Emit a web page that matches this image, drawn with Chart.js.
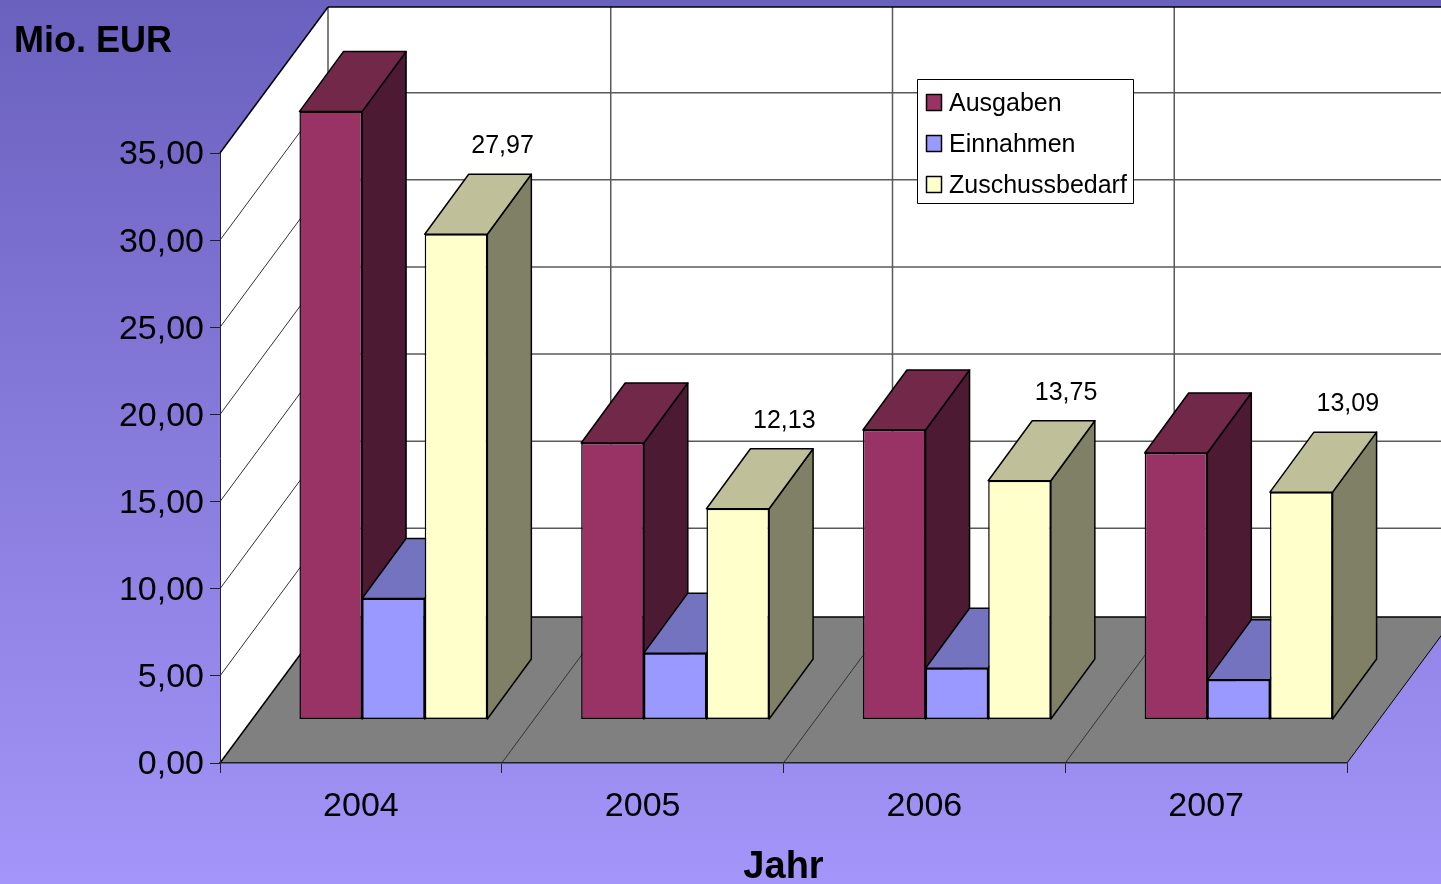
<!DOCTYPE html>
<html>
<head>
<meta charset="utf-8">
<title>Mio. EUR</title>
<script src="https://cdn.jsdelivr.net/npm/chart.js@4"></script>
<style>
  html, body { margin: 0; height: 100%; overflow: hidden; }
  body { background: linear-gradient(180deg, #6a60bd 0%, #a395f9 100%); }
  canvas { display: block; }
</style>
</head>
<body>
<canvas id="chart" width="1441" height="884"></canvas>
<script>
const jahre = ["2004", "2005", "2006", "2007"];
const ausgaben = [35.05, 15.93, 16.68, 15.35];
const einnahmen = [6.95, 3.8, 2.93, 2.26];
const zuschussbedarf = [27.97, 12.13, 13.75, 13.09];
const yTitle = "Mio. EUR";
const xTitle = "Jahr";

const FONT = '"Liberation Sans", Arial, sans-serif';
// oblique projection of the 3D look
const WALL_DX = 108, WALL_DY = 146;   // depth of the whole floor
const GRID_DX = 109, GRID_DY = 147.5; // grid on the back wall sits slightly off the corner
const BAR_DX = 44, BAR_DY = 60;       // depth of one bar
const BAR_SHIFT = 32.5;               // bars stand inside the floor
const BAR_PX_PER_UNIT = 17.33;        // front plane of the bars, a bit flatter than the axis
const PLOT_HEIGHT = 610, BAR_BASE_UP = 44;

const tops = ["#722849", "#7373bf", "#bfbf99"];
const sides = ["#4c1a33", "#4c4c80", "#808066"];

function poly(ctx, pts, fill, stroke, lw) {
  ctx.beginPath();
  pts.forEach((p, i) => (i ? ctx.lineTo(p[0], p[1]) : ctx.moveTo(p[0], p[1])));
  ctx.closePath();
  if (fill) { ctx.fillStyle = fill; ctx.fill(); }
  if (stroke) { ctx.strokeStyle = stroke; ctx.lineWidth = lw; ctx.lineJoin = "round"; ctx.stroke(); }
}

function line(ctx, x1, y1, x2, y2, color, lw) {
  ctx.beginPath();
  ctx.moveTo(x1, y1);
  ctx.lineTo(x2, y2);
  ctx.strokeStyle = color;
  ctx.lineWidth = lw;
  ctx.stroke();
}

const box3d = {
  id: "box3d",
  beforeDraw(chart) {
    const { ctx, chartArea: a, scales } = chart;
    const y = scales.y;
    const L = a.left, R = a.right, T = a.top, B = a.bottom;
    ctx.save();
    poly(ctx, [[L + WALL_DX, T - WALL_DY], [R + WALL_DX, T - WALL_DY], [R + WALL_DX, B - WALL_DY], [L + WALL_DX, B - WALL_DY]], "#ffffff");
    poly(ctx, [[L, T], [L + WALL_DX, T - WALL_DY], [L + WALL_DX, B - WALL_DY], [L, B]], "#ffffff");
    poly(ctx, [[L, B], [R, B], [R + WALL_DX, B - WALL_DY], [L + WALL_DX, B - WALL_DY]], "#808080");

    y.ticks.forEach((t) => {
      const py = y.getPixelForValue(t.value);
      const edge = t.value === y.max || t.value === 0;
      if (!edge) line(ctx, L + WALL_DX, py - GRID_DY, R + WALL_DX, py - GRID_DY, "#5a5a5a", 1.5);
      line(ctx, L, py, L + WALL_DX, py - WALL_DY, edge ? "#000000" : "#333333", edge ? 1.5 : 1);
    });
    for (let i = 1; i <= jahre.length; i++) {
      const px = L + (R - L) * i / jahre.length;
      line(ctx, px, B, px + WALL_DX, B - WALL_DY, i === jahre.length ? "#000000" : "#333333", 1);
      if (i < jahre.length) line(ctx, px + GRID_DX, T - WALL_DY, px + GRID_DX, B - WALL_DY, "#5a5a5a", 1.5);
    }
    line(ctx, L + WALL_DX, T - WALL_DY, L + WALL_DX, B - WALL_DY, "#000000", 1);
    line(ctx, L + WALL_DX, T - WALL_DY, R + WALL_DX, T - WALL_DY, "#000000", 1.5);
    line(ctx, L + WALL_DX, B - WALL_DY, R + WALL_DX, B - WALL_DY, "#000000", 1.5);
    ctx.restore();
  },
  // paint series left to right so each bar overlaps its left neighbour:
  // side and top first, the bar controller then draws the front
  beforeDatasetsDraw(chart) {
    const { ctx } = chart;
    ctx.save();
    ctx.translate(BAR_SHIFT, 0);
    chart.data.datasets.forEach((ds, i) => {
      const meta = chart.getDatasetMeta(i);
      meta.data.forEach((bar) => {
        const l = bar.x - bar.width / 2, r = bar.x + bar.width / 2;
        poly(ctx, [[r, bar.y], [r + BAR_DX, bar.y - BAR_DY], [r + BAR_DX, bar.base - BAR_DY], [r, bar.base]], sides[i], "#000000", 1.5);
        poly(ctx, [[l, bar.y], [l + BAR_DX, bar.y - BAR_DY], [r + BAR_DX, bar.y - BAR_DY], [r, bar.y]], tops[i], "#000000", 1.5);
      });
      meta.controller.draw();
    });
    ctx.restore();
    return false;
  },
  afterDraw(chart) {
    const { ctx } = chart;
    ctx.save();
    // value labels of the last series
    ctx.fillStyle = "#000000";
    ctx.font = "25px " + FONT;
    ctx.textAlign = "center";
    ctx.textBaseline = "middle";
    const last = chart.data.datasets.length - 1;
    chart.getDatasetMeta(last).data.forEach((bar, k) => {
      ctx.fillText(zuschussbedarf[k].toFixed(2).replace(".", ","), bar.x + BAR_SHIFT + 46.5, bar.y - 88);
    });

    ctx.textAlign = "left";
    ctx.font = "bold 36px " + FONT;
    ctx.fillText(yTitle, 14, 42);

    // legend box inside the plot
    poly(ctx, [[917.5, 79.5], [1133.5, 79.5], [1133.5, 203.5], [917.5, 203.5]], "#ffffff", "#000000", 1);
    ctx.font = "25px " + FONT;
    chart.data.datasets.forEach((ds, k) => {
      const cy = 102.5 + k * 41;
      poly(ctx, [[926.5, cy - 8], [941.5, cy - 8], [941.5, cy + 8], [926.5, cy + 8]], ds.backgroundColor, "#000000", 1.5);
      ctx.fillStyle = "#000000";
      ctx.fillText(ds.label, 949, cy + 2);
    });
    ctx.restore();
  },
};

const barDefaults = {
  yAxisID: "yBars",
  borderColor: "#000000",
  borderWidth: 1.5,
  borderSkipped: false,
  categoryPercentage: 0.667,
  barPercentage: 1,
};

new Chart(document.getElementById("chart"), {
  type: "bar",
  plugins: [box3d],
  data: {
    labels: jahre,
    datasets: [
      { ...barDefaults, label: "Ausgaben", data: ausgaben, backgroundColor: "#993366" },
      { ...barDefaults, label: "Einnahmen", data: einnahmen, backgroundColor: "#9999ff" },
      { ...barDefaults, label: "Zuschussbedarf", data: zuschussbedarf, backgroundColor: "#ffffcc" },
    ],
  },
  options: {
    responsive: false,
    animation: false,
    layout: { padding: { top: 153, right: 94, left: 0, bottom: 0 } },
    plugins: { legend: { display: false }, tooltip: { enabled: false } },
    scales: {
      x: {
        afterFit: (s) => { s.height = 121; },
        grid: { drawOnChartArea: false, color: "#222222", tickLength: 10, tickWidth: 1 },
        border: { color: "#222222", width: 1.5 },
        ticks: { color: "#000000", font: { family: FONT, size: 34 }, padding: 13, maxRotation: 0 },
        title: { display: true, text: xTitle, color: "#000000", font: { family: FONT, size: 38, weight: "bold" }, padding: { top: 0, bottom: -6 } },
      },
      y: {
        min: 0,
        max: 35,
        afterFit: (s) => { s.width = 220; },
        grid: { drawOnChartArea: false, color: "#222222", tickLength: 10, tickWidth: 1 },
        border: { color: "#222222", width: 1 },
        ticks: {
          stepSize: 5,
          color: "#000000",
          font: { family: FONT, size: 34 },
          padding: 6,
          labelOffset: 2,
          callback: (v) => v.toFixed(2).replace(".", ","),
        },
      },
      yBars: {
        display: false,
        min: -BAR_BASE_UP / BAR_PX_PER_UNIT,
        max: (PLOT_HEIGHT - BAR_BASE_UP) / BAR_PX_PER_UNIT,
      },
    },
  },
});
</script>
</body>
</html>
